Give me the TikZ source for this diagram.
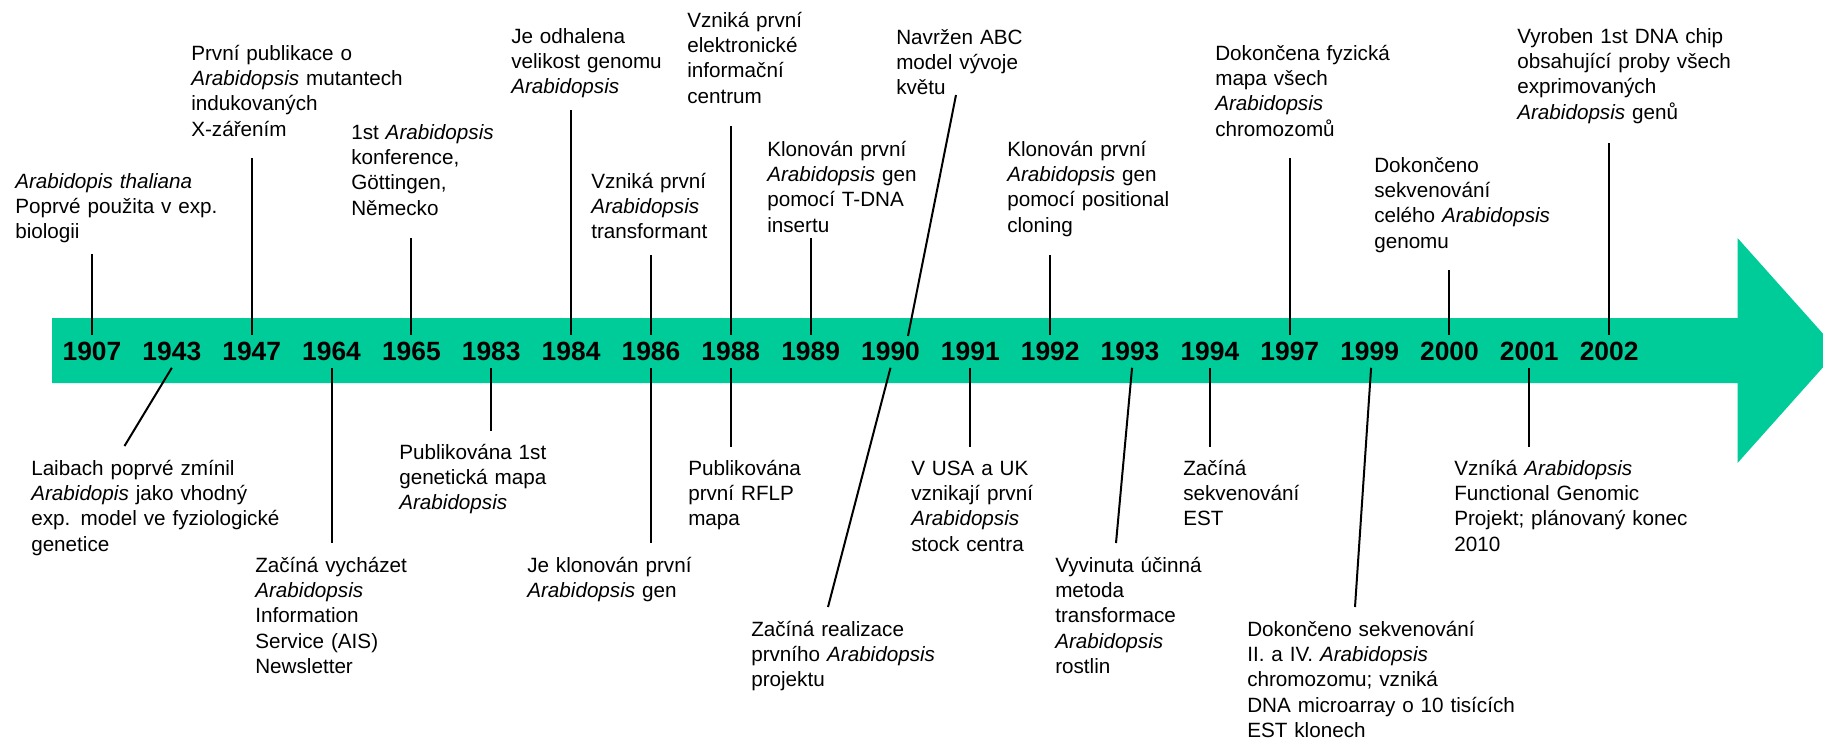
\documentclass[tikz,border=0pt]{standalone}
\usepackage{fontspec}
\usetikzlibrary{calc}
\setmainfont{Liberation Sans}
\definecolor{bargreen}{RGB}{0,204,153}
\begin{document}
\begin{tikzpicture}[x=0.75pt,y=-0.75pt,
  yearlbl/.style={font=\bfseries\fontsize{19.8}{20}\selectfont, inner sep=0pt, text height=14.2pt, text depth=0pt, minimum height=24pt},
  desc/.style={font=\fontsize{15.5}{19.1}\selectfont, anchor=base west, inner sep=0pt, text width=260pt, align=left},
  tick/.style={line width=1.5pt, black}]
\useasboundingbox (0,0) rectangle (1823,740);
\clip (0,0) rectangle (1823,740);
\fill[bargreen] (52,318) -- (1737.5,318) -- (1737.5,238) -- (1838,350.5) -- (1737.5,463) -- (1737.5,383) -- (52,383) -- cycle;
\foreach \yr [count=\i from 0] in {1907,1943,1947,1964,1965,1983,1984,1986,1988,1989,1990,1991,1992,1993,1994,1997,1999,2000,2001,2002}
  \node[yearlbl] (y\yr) at ({92+79.85*\i},351.5) {\yr};

% texts above the bar
\node[desc] (t1907) at (15,188) {\textit{Arabidopis thaliana}\\Poprvé použita v exp.\\biologii};
\node[desc] (t1947) at (191,60) {První publikace o\\\textit{Arabidopsis} mutantech\\indukovaných\\X-zářením};
\node[desc] (t1965) at (351,139) {1st \textit{Arabidopsis}\\konference,\\Göttingen,\\Německo};
\node[desc] (t1984) at (511,43) {Je odhalena\\velikost genomu\\\textit{Arabidopsis}};
\node[desc] (t1986a) at (591,188) {Vzniká první\\\textit{Arabidopsis}\\transformant};
\node[desc] (t1988a) at (687,27) {Vzniká první\\elektronické\\informační\\centrum};
\node[desc] (t1989) at (767,156) {Klonován první\\\textit{Arabidopsis} gen\\pomocí T-DNA\\insertu};
\node[desc] (t1990a) at (896,44) {Navržen ABC\\model vývoje\\květu};
\node[desc] (t1992) at (1007,156) {Klonován první\\\textit{Arabidopsis} gen\\pomocí positional\\cloning};
\node[desc] (t1997) at (1215,60) {Dokončena fyzická\\mapa všech\\\textit{Arabidopsis}\\chromozomů};
\node[desc] (t2000) at (1374,172) {Dokončeno\\sekvenování\\celého \textit{Arabidopsis}\\genomu};
\node[desc] (t2002) at (1517,43) {Vyroben 1st DNA chip\\obsahující proby všech\\exprimovaných\\\textit{Arabidopsis} genů};

% texts below the bar
\node[desc] (t1943) at (31,475) {Laibach poprvé zmínil\\\textit{Arabidopis} jako vhodný\\exp. model ve fyziologické\\genetice};
\node[desc] (t1964) at (255,572) {Začíná vycházet\\\textit{Arabidopsis}\\Information\\Service (AIS)\\Newsletter};
\node[desc] (t1983) at (399,459) {Publikována 1st\\genetická mapa\\\textit{Arabidopsis}};
\node[desc] (t1986b) at (527,572) {Je klonován první\\\textit{Arabidopsis} gen};
\node[desc] (t1988b) at (688,475) {Publikována\\první RFLP\\mapa};
\node[desc] (t1990b) at (751,636) {Začíná realizace\\prvního \textit{Arabidopsis}\\projektu};
\node[desc] (t1991) at (911,475) {V USA a UK\\vznikají první\\\textit{Arabidopsis}\\stock centra};
\node[desc] (t1993) at (1055,572) {Vyvinuta účinná\\metoda\\transformace\\\textit{Arabidopsis}\\rostlin};
\node[desc] (t1994) at (1183,475) {Začíná\\sekvenování\\EST};
\node[desc] (t1999) at (1247,636) {Dokončeno sekvenování\\II. a IV. \textit{Arabidopsis}\\chromozomu; vzniká\\DNA microarray o 10 tisících\\EST klonech};
\node[desc] (t2001) at (1454,475) {Vzníká \textit{Arabidopsis}\\Functional Genomic\\Projekt; plánovaný konec\\2010};

% connector end points near the texts
\coordinate (c1907) at (y1907.north |- 0,254);
\coordinate (c1947) at (y1947.north |- 0,158);
\coordinate (c1965) at (y1965.north |- 0,238);
\coordinate (c1984) at (y1984.north |- 0,110);
\coordinate (c1986a) at (y1986.north |- 0,255);
\coordinate (c1988a) at (y1988.north |- 0,126);
\coordinate (c1989) at (y1989.north |- 0,238);
\coordinate (c1990a) at (956,95);
\coordinate (e1990a) at (908,336);
\coordinate (c1992) at (y1992.north |- 0,255);
\coordinate (c1997) at (y1997.north |- 0,158);
\coordinate (c2000) at (y2000.north |- 0,270);
\coordinate (c2002) at (y2002.north |- 0,143);

\coordinate (c1943) at (124.5,446);
\coordinate (c1964) at (y1964.south |- 0,543);
\coordinate (c1983) at (y1983.south |- 0,431);
\coordinate (c1986b) at (y1986.south |- 0,543);
\coordinate (c1988b) at (y1988.south |- 0,447);
\coordinate (c1990b) at (828,607);
\coordinate (c1991) at (y1991.south |- 0,447);
\coordinate (c1993) at (1116,543);
\coordinate (c1994) at (y1994.south |- 0,447);
\coordinate (c1999) at (1355,607);
\coordinate (c2001) at (y2001.south |- 0,447);

% connectors
\draw[tick] (c1907) -- (y1907.north);
\draw[tick] (c1947) -- (y1947.north);
\draw[tick] (c1965) -- (y1965.north);
\draw[tick] (c1984) -- (y1984.north);
\draw[tick] (c1986a) -- (y1986.north);
\draw[tick] (c1988a) -- (y1988.north);
\draw[tick] (c1989) -- (y1989.north);
\draw[tick] (c1990a) -- (e1990a);
\draw[tick] (c1992) -- (y1992.north);
\draw[tick] (c1997) -- (y1997.north);
\draw[tick] (c2000) -- (y2000.north);
\draw[tick] (c2002) -- (y2002.north);

\draw[tick] (y1943.south) -- (c1943);
\draw[tick] (y1964.south) -- (c1964);
\draw[tick] (y1983.south) -- (c1983);
\draw[tick] (y1986.south) -- (c1986b);
\draw[tick] (y1988.south) -- (c1988b);
\draw[tick] (y1990.south) -- (c1990b);
\draw[tick] (y1991.south) -- (c1991);
\draw[tick] ($(y1993.south)+(2,0)$) -- (c1993);
\draw[tick] (y1994.south) -- (c1994);
\draw[tick] ($(y1999.south)+(1.5,0)$) -- (c1999);
\draw[tick] (y2001.south) -- (c2001);
\end{tikzpicture}
\end{document}
